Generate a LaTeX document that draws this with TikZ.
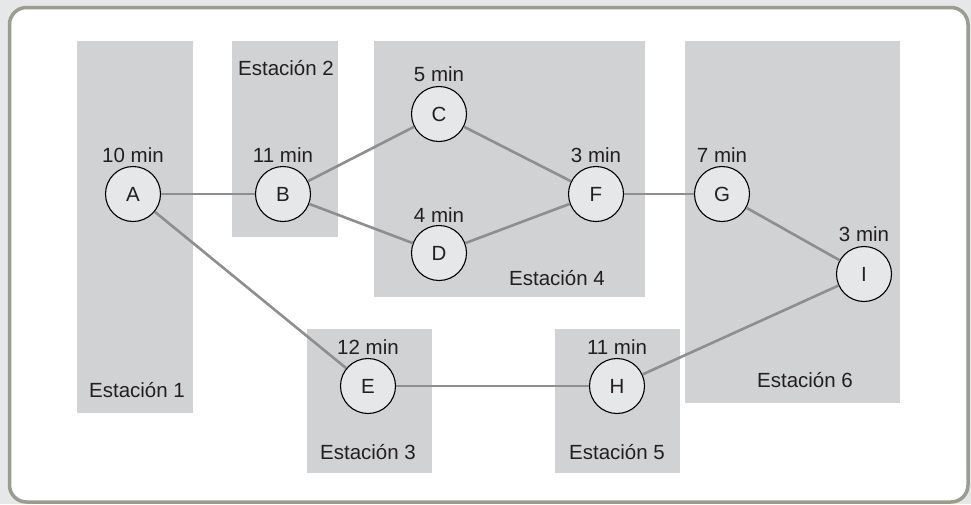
\documentclass[tikz,border=0pt]{standalone}
\usepackage{fontspec}
\setmainfont{Liberation Sans}
\begin{document}
\begin{tikzpicture}[x=1pt,y=-1pt,
  station/.style={fill=stationgray},
  task/.style={circle,draw=black,line width=1.1pt,fill=taskgray,minimum size=55pt,inner sep=0pt,font=\fontsize{20.5}{23}\selectfont,text=textgray},
  txt/.style={inner sep=0pt,font=\fontsize{20.5}{23}\selectfont,text=textgray},
  link/.style={draw=linkgray,line width=2.6pt}]
\definecolor{outerbg}{HTML}{E6E7E8}
\definecolor{bordergray}{HTML}{9B9C90}
\definecolor{stationgray}{HTML}{D1D2D4}
\definecolor{taskgray}{HTML}{E6E7E9}
\definecolor{linkgray}{HTML}{8E8E8E}
\definecolor{textgray}{HTML}{231F20}
\useasboundingbox (0,0) rectangle (971,504);
\fill[outerbg] (0,0) rectangle (971,504);
\draw[bordergray,line width=3.5pt,fill=white,rounded corners=17pt] (9.5,7.5) rectangle (968,502);
% stations
\fill[station] (77,41) rectangle (193,413);
\fill[station] (232,41) rectangle (338,237);
\fill[station] (374,41) rectangle (645,297);
\fill[station] (685,41) rectangle (900,403);
\fill[station] (307,329) rectangle (432,473);
\fill[station] (555,329) rectangle (680,473);
% station labels
\node[txt] (s1) at (137,390) {Estación 1};
\node[txt] (s2) at (286,68) {Estación 2};
\node[txt] (s3) at (368,452) {Estación 3};
\node[txt] (s4) at (557,278) {Estación 4};
\node[txt] (s5) at (617,452) {Estación 5};
\node[txt] (s6) at (805,380) {Estación 6};
% tasks
\node[task] (A) at (133,194) {A};
\node[task] (B) at (283,194) {B};
\node[task] (C) at (439,114) {C};
\node[task] (D) at (439,253) {D};
\node[task] (E) at (368,386) {E};
\node[task] (F) at (596,194) {F};
\node[task] (G) at (722,194) {G};
\node[task] (H) at (617,386) {H};
\node[task] (I) at (864,274) {I};
% times
\node[txt] (tA) at (133,155) {10 min};
\node[txt] (tB) at (283,155) {11 min};
\node[txt] (tC) at (439,74) {5 min};
\node[txt] (tD) at (439,215) {4 min};
\node[txt] (tE) at (368,347) {12 min};
\node[txt] (tF) at (596,155) {3 min};
\node[txt] (tG) at (722,155) {7 min};
\node[txt] (tH) at (617,347) {11 min};
\node[txt] (tI) at (864,234) {3 min};
% links
\draw[link] (A) -- (B);
\draw[link] (A) -- (E);
\draw[link] (B) -- (C);
\draw[link] (B) -- (D);
\draw[link] (C) -- (F);
\draw[link] (D) -- (F);
\draw[link] (F) -- (G);
\draw[link] (G) -- (I);
\draw[link] (E) -- (H);
\draw[link] (H) -- (I);
\end{tikzpicture}
\end{document}
